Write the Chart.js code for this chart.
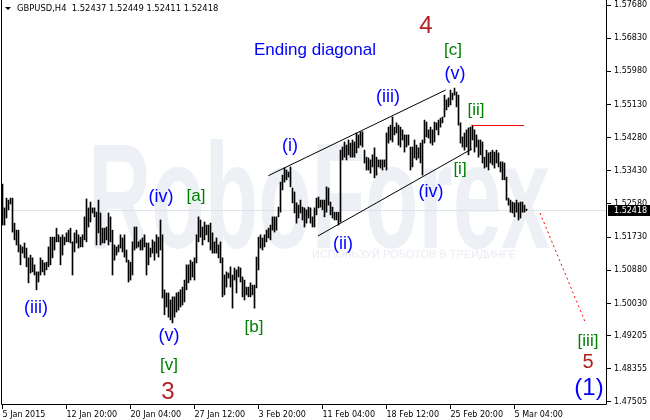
<!DOCTYPE html>
<html><head><meta charset="utf-8">
<script src="https://cdn.jsdelivr.net/npm/chart.js@4.4.1/dist/chart.umd.min.js"></script>
<style>html,body{margin:0;padding:0;background:#fff}canvas{display:block}</style>
</head><body>
<canvas id="c" width="650" height="420"></canvas>
<script>
// ---------- data ----------
const symbol = "GBPUSD,H4";
const lastBar = [1.52437, 1.52449, 1.52411, 1.52418]; // open high low close

const highs = [
1.5309,1.5248,1.5273,1.5268,1.5273,1.5273,1.5209,1.5191,1.5191,1.5153,
1.5148,1.5158,1.5145,1.5120,1.5127,1.5120,1.5102,1.5084,1.5084,1.5120,
1.5114,1.5107,1.5109,1.5148,1.5173,1.5173,1.5173,1.5196,1.5179,1.5173,
1.5179,1.5173,1.5184,1.5191,1.5196,1.5161,1.5184,1.5191,1.5179,1.5173,
1.5179,1.5225,1.5271,1.5248,1.5263,1.5248,1.5248,1.5237,1.5268,1.5235,
1.5196,1.5196,1.5199,1.5235,1.5225,1.5191,1.5153,1.5148,1.5153,1.5179,
1.5171,1.5179,1.5140,1.5114,1.5109,1.5161,1.5199,1.5199,1.5161,1.5166,
1.5171,1.5179,1.5158,1.5158,1.5145,1.5166,1.5161,1.5179,1.5173,1.5217,
1.5179,1.5038,1.5030,1.5030,1.5012,1.5020,1.5020,1.5030,1.5032,1.5038,
1.5045,1.5063,1.5102,1.5102,1.5114,1.5109,1.5120,1.5179,1.5225,1.5217,
1.5199,1.5212,1.5204,1.5204,1.5209,1.5184,1.5161,1.5171,1.5153,1.5161,
1.5120,1.5076,1.5084,1.5081,1.5097,1.5076,1.5094,1.5089,1.5097,1.5094,
1.5071,1.5063,1.5045,1.5045,1.5056,1.5050,1.5050,1.5122,1.5173,1.5179,
1.5171,1.5179,1.5191,1.5196,1.5204,1.5225,1.5225,1.5225,1.5250,1.5314,
1.5332,1.5350,1.5345,1.5340,1.5353,1.5299,1.5289,1.5261,1.5255,1.5268,
1.5250,1.5248,1.5243,1.5250,1.5248,1.5225,1.5248,1.5273,1.5276,1.5268,
1.5268,1.5268,1.5302,1.5299,1.5263,1.5250,1.5237,1.5237,1.5237,1.5396,
1.5404,1.5417,1.5409,1.5422,1.5414,1.5422,1.5417,1.5440,1.5435,1.5443,
1.5443,1.5396,1.5378,1.5376,1.5371,1.5384,1.5402,1.5378,1.5371,1.5371,
1.5371,1.5371,1.5440,1.5455,1.5460,1.5481,1.5455,1.5466,1.5460,1.5455,
1.5448,1.5435,1.5435,1.5435,1.5404,1.5404,1.5422,1.5409,1.5402,1.5414,
1.5422,1.5473,1.5468,1.5448,1.5455,1.5448,1.5468,1.5466,1.5473,1.5478,
1.5481,1.5537,1.5525,1.5530,1.5550,1.5542,1.5555,1.5545,1.5537,1.5466,
1.5430,1.5440,1.5448,1.5453,1.5455,1.5460,1.5448,1.5435,1.5422,1.5422,
1.5417,1.5378,1.5396,1.5389,1.5391,1.5396,1.5391,1.5396,1.5389,1.5366,
1.5366,1.5363,1.5327,1.5273,1.5268,1.5263,1.5261,1.5268,1.5261,1.5263,
1.5263,1.5255,1.52449
];
const lows = [
1.5204,1.5204,1.5222,1.5243,1.5258,1.5186,1.5166,1.5153,1.5135,1.5102,
1.5132,1.5120,1.5097,1.5056,1.5081,1.5084,1.5076,1.5038,1.5058,1.5076,
1.5084,1.5076,1.5089,1.5097,1.5102,1.5120,1.5140,1.5161,1.5161,1.5102,
1.5127,1.5153,1.5161,1.5161,1.5158,1.5076,1.5135,1.5158,1.5145,1.5148,
1.5148,1.5166,1.5161,1.5199,1.5212,1.5235,1.5225,1.5153,1.5184,1.5153,
1.5158,1.5158,1.5166,1.5153,1.5161,1.5076,1.5114,1.5127,1.5135,1.5145,
1.5135,1.5122,1.5109,1.5058,1.5063,1.5076,1.5140,1.5145,1.5148,1.5140,
1.5140,1.5148,1.5076,1.5102,1.5122,1.5132,1.5114,1.5132,1.5122,1.5140,
1.5017,1.4974,1.4994,1.4968,1.4961,1.4953,1.4968,1.4981,1.4986,1.4994,
1.4999,1.5007,1.5038,1.5056,1.5063,1.5071,1.5063,1.5107,1.5161,1.5173,
1.5153,1.5166,1.5179,1.5161,1.5140,1.5132,1.5132,1.5132,1.5120,1.5107,
1.5020,1.5025,1.5045,1.5068,1.5045,1.4991,1.5063,1.5030,1.5071,1.5058,
1.5020,1.5012,1.5025,1.5020,1.5020,1.5025,1.4991,1.5043,1.5089,1.5145,
1.5140,1.5148,1.5161,1.5171,1.5166,1.5191,1.5186,1.5191,1.5225,1.5237,
1.5294,1.5314,1.5320,1.5327,1.5302,1.5261,1.5235,1.5209,1.5222,1.5235,
1.5217,1.5199,1.5209,1.5222,1.5209,1.5199,1.5199,1.5230,1.5248,1.5250,
1.5243,1.5225,1.5237,1.5255,1.5230,1.5222,1.5217,1.5217,1.5204,1.5212,
1.5371,1.5378,1.5371,1.5384,1.5378,1.5378,1.5378,1.5389,1.5402,1.5409,
1.5404,1.5363,1.5345,1.5345,1.5337,1.5353,1.5325,1.5332,1.5353,1.5350,
1.5345,1.5353,1.5345,1.5414,1.5422,1.5417,1.5435,1.5440,1.5409,1.5404,
1.5422,1.5391,1.5404,1.5409,1.5345,1.5353,1.5376,1.5371,1.5376,1.5363,
1.5332,1.5414,1.5430,1.5427,1.5414,1.5409,1.5417,1.5448,1.5435,1.5455,
1.5466,1.5481,1.5499,1.5507,1.5512,1.5525,1.5537,1.5507,1.5460,1.5414,
1.5404,1.5396,1.5404,1.5384,1.5396,1.5422,1.5391,1.5404,1.5378,1.5384,
1.5363,1.5350,1.5353,1.5345,1.5363,1.5358,1.5350,1.5363,1.5353,1.5340,
1.5320,1.5320,1.5268,1.5255,1.5237,1.5235,1.5225,1.5237,1.5217,1.5222,
1.5237,1.5237,1.52411
];

const timeTickBars = [0, 32, 64, 96, 128, 160, 192, 224, 256];
const timeTickLabels = ["5 Jan 2015","12 Jan 20:00","20 Jan 04:00","27 Jan 12:00","3 Feb 20:00","11 Feb 04:00","18 Feb 12:00","25 Feb 20:00","5 Mar 04:00"];
const priceTicks = [1.57680,1.56830,1.55980,1.55130,1.54280,1.53430,1.52580,1.51730,1.50880,1.50030,1.49205,1.48355,1.47505];

// wedge (ending diagonal) lines, level and forecast, anchored at bar index / price
const upperLine = [{x:132.9, y:1.53305}, {x:221.6, y:1.55502}];
const lowerLine = [{x:157.75, y:1.51760}, {x:234.6, y:1.53989}];
const levelLine = [{x:234.75, y:1.54591}, {x:260.75, y:1.54591}];
const forecastLine = [{x:268.75, y:1.52349}, {x:291.75, y:1.49504}];

// wave labels: text, bar index, price, kind
const waveLabels = [
  ["4", 211.75, 1.57120, "major"],
  ["[c]", 225.25, 1.56527, "minor"],
  ["(v)", 226.25, 1.55912, "minute"],
  ["Ending diagonal", 156.25, 1.56527, "title"],
  ["(iii)", 192.75, 1.55322, "minute"],
  ["[ii]", 236.75, 1.54989, "minor"],
  ["(i)", 143.75, 1.54066, "minute"],
  ["[i]", 228.75, 1.53477, "minor"],
  ["(iv)", 214.25, 1.52887, "minute"],
  ["(iv)", 79.25, 1.52759, "minute"],
  ["[a]", 96.75, 1.52785, "minor"],
  ["(ii)", 170.25, 1.51555, "minute"],
  ["(iii)", 16.75, 1.49914, "minute"],
  ["[b]", 125.75, 1.49427, "minor"],
  ["(v)", 83.25, 1.49197, "minute"],
  ["[v]", 83.25, 1.48453, "minor"],
  ["3", 82.75, 1.47761, "major"],
  ["[iii]", 292.75, 1.49068, "minor"],
  ["5", 292.75, 1.48530, "major5"],
  ["(1)", 293.25, 1.47864, "primary"]
];
const labelStyles = {
  major:   {color:"#b22222", font:"24px 'Liberation Sans'"},
  major5:  {color:"#b22222", font:"20px 'Liberation Sans'"},
  minor:   {color:"#008000", font:"17px 'Liberation Sans'"},
  minute:  {color:"#0000ff", font:"18px 'Liberation Sans'"},
  title:   {color:"#0000ff", font:"17px 'Liberation Sans'"},
  primary: {color:"#0000ff", font:"24px 'Liberation Sans'"}
};

// ---------- chart ----------
const AXIS_FONT = {family:"'DejaVu Sans'", size:8};
const barData = highs.map((h, i) => ({x: i, y: [lows[i], h]}));

const overlay = {
  id: 'overlay',
  beforeDatasetsDraw(chart) {
    const {ctx, chartArea: a, scales: {y}} = chart;
    ctx.save();
    ctx.beginPath(); ctx.rect(a.left, a.top, a.right - a.left, a.bottom - a.top); ctx.clip();
    // watermark
    ctx.fillStyle = '#edf0f5';
    ctx.font = "bold 150px 'Liberation Sans'";
    ctx.textBaseline = 'alphabetic';
    const w = ctx.measureText('RoboForex').width;
    ctx.save();
    ctx.translate(88, 248);
    ctx.scale(462 / w, 1);
    ctx.fillText('RoboForex', 0, 0);
    ctx.restore();
    ctx.fillStyle = '#e9ecf2';
    ctx.font = "11px 'Liberation Sans'";
    ctx.fillText('ИСПОЛЬЗУЙ РОБОТОВ В ТРЕЙДИНГЕ', 312, 258);
    // bid line
    const py = Math.round(y.getPixelForValue(lastBar[3])) + 0.5;
    ctx.strokeStyle = '#dfe2e8';
    ctx.lineWidth = 1;
    ctx.beginPath(); ctx.moveTo(a.left, py); ctx.lineTo(a.right, py); ctx.stroke();
    ctx.restore();
  },
  afterDatasetsDraw(chart) {
    const {ctx, scales: {x, y}} = chart;
    ctx.save();
    ctx.textAlign = 'center';
    ctx.textBaseline = 'middle';
    for (const [t, i, p, k] of waveLabels) {
      const st = labelStyles[k];
      ctx.fillStyle = st.color;
      ctx.font = st.font;
      ctx.fillText(t, x.getPixelForValue(i), y.getPixelForValue(p));
    }
    ctx.restore();
  },
  afterDraw(chart) {
    const {ctx, chartArea: a, scales: {y}} = chart;
    ctx.save();
    // frame
    ctx.strokeStyle = '#000';
    ctx.lineWidth = 1;
    ctx.beginPath();
    ctx.moveTo(a.left + 0.5, a.top); ctx.lineTo(a.left + 0.5, a.bottom - 0.5);
    ctx.lineTo(a.right - 0.5, a.bottom - 0.5); ctx.lineTo(a.right - 0.5, a.top);
    ctx.stroke();
    // current price tag
    const py = Math.round(y.getPixelForValue(lastBar[3]));
    ctx.fillStyle = '#000';
    ctx.fillRect(a.right + 1, py - 5, 42, 11);
    ctx.fillStyle = '#fff';
    ctx.font = "8px 'DejaVu Sans'";
    ctx.textAlign = 'left';
    ctx.textBaseline = 'middle';
    ctx.fillText(lastBar[3].toFixed(5), a.right + 7, py + 0.5);
    // header
    ctx.fillStyle = '#000';
    ctx.beginPath(); ctx.moveTo(5, 7); ctx.lineTo(11, 7); ctx.lineTo(8, 10); ctx.closePath(); ctx.fill();
    ctx.font = "8.4px 'DejaVu Sans'";
    ctx.fillText(symbol + '  ' + lastBar.map(v => v.toFixed(5)).join(' '), 17, 9);
    ctx.restore();
  }
};

new Chart(document.getElementById('c'), {
  type: 'bar',
  data: {
    datasets: [
      {type:'bar', data: barData, backgroundColor:'#000', borderWidth:0, barThickness:1, grouped:false, order:2},
      {type:'line', data: upperLine, borderColor:'#000', borderWidth:1, pointRadius:0, order:1},
      {type:'line', data: lowerLine, borderColor:'#000', borderWidth:1, pointRadius:0, order:1},
      {type:'line', data: levelLine, borderColor:'#ff0000', borderWidth:1, pointRadius:0, order:1},
      {type:'line', data: forecastLine, borderColor:'#ff0000', borderWidth:1, borderDash:[2,3], pointRadius:0, order:1}
    ]
  },
  options: {
    responsive: false,
    animation: false,
    devicePixelRatio: 1,
    layout: {padding: {left: 1, top: 0, right: 0, bottom: 0}},
    plugins: {legend: {display: false}, tooltip: {enabled: false}},
    scales: {
      x: {
        type: 'linear', min: -0.75, max: 302.25, offset: false,
        grid: {drawOnChartArea: false, drawTicks: true, tickLength: 4, color: '#000', offset: false},
        border: {display: false},
        afterBuildTicks: s => { s.ticks = timeTickBars.map(v => ({value: v})); },
        afterFit: s => { s.height = 15; s.paddingLeft = 0; s.paddingRight = 0; },
        ticks: {
          autoSkip: false, maxRotation: 0, align: 'start', padding: 1, color: '#000', font: AXIS_FONT,
          callback: (v, i) => timeTickLabels[i]
        }
      },
      y: {
        type: 'linear', position: 'right', min: 1.474281, max: 1.578082,
        grid: {drawOnChartArea: false, drawTicks: true, tickLength: 4, color: '#000'},
        border: {display: false},
        afterBuildTicks: s => { s.ticks = priceTicks.map(v => ({value: v})); },
        afterFit: s => { s.width = 43; s.paddingTop = 0; s.paddingBottom = 0; },
        ticks: {
          autoSkip: false, padding: 3, color: '#000', font: AXIS_FONT,
          callback: v => v.toFixed(5)
        }
      }
    }
  },
  plugins: [overlay]
});
</script>
</body></html>
